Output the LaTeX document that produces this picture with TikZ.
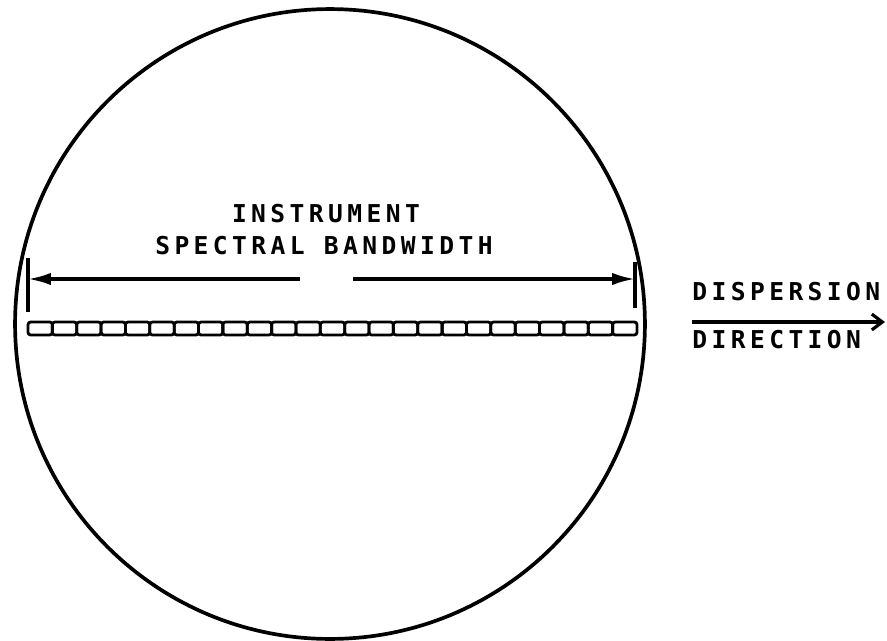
\documentclass[tikz,border=0pt]{standalone}
\usepackage{fontspec}
\newfontfamily\plotterfont[LetterSpace=18]{DejaVu Sans Mono}
\usetikzlibrary{arrows.meta,positioning}

\begin{document}
\begin{tikzpicture}[
    x=0.02cm, y=-0.02cm,
    every node/.style={inner sep=0pt, font=\plotterfont\bfseries\fontsize{14}{16}\selectfont},
    outline/.style={draw, circle, line width=2.1pt, minimum size=12.6cm},
    dimline/.style={line width=1.8pt},
    tickmark/.style={line width=2pt},
    pixelbox/.style={line width=1.6pt, rounded corners=1.5pt}
]
\useasboundingbox (0,0) rectangle (887,640);

% field of view
\node[outline] (fov) at (330,324) {};

% bandwidth marks
\coordinate (ltop) at (28,258);
\coordinate (lbot) at (28,312);
\coordinate (rtop) at (635,262);
\coordinate (rbot) at (635,308);
\coordinate (lend) at (28,279);
\coordinate (rend) at (635,279);
\coordinate (gapl) at (300,279);
\coordinate (gapr) at (353,279);
\draw[tickmark] (ltop) -- (lbot);
\draw[tickmark] (rtop) -- (rbot);
\draw[dimline, -{Latex[length=13pt,width=7pt]}] (gapl) -- (lend);
\draw[dimline, -{Latex[length=13pt,width=7pt]}] (gapr) -- (rend);

% detector pixels
\foreach \i in {0,...,24}
    \draw[pixelbox] ({28+\i*24.36},322) rectangle ({28+(\i+1)*24.36},335);

\node (instr) at (326,214) {INSTRUMENT};
\node (band) at (324,246) {SPECTRAL BANDWIDTH};

% dispersion direction
\node[anchor=west] (disp) at (692,292) {DISPERSION};
\node[anchor=west] (dirn) at (692,340) {DIRECTION};
\coordinate (dstart) at (692,322);
\coordinate (dend) at (885,322);
\draw[dimline, -{Straight Barb[length=6pt,width=9pt]}] (dstart) -- (dend);

\end{tikzpicture}
\end{document}
